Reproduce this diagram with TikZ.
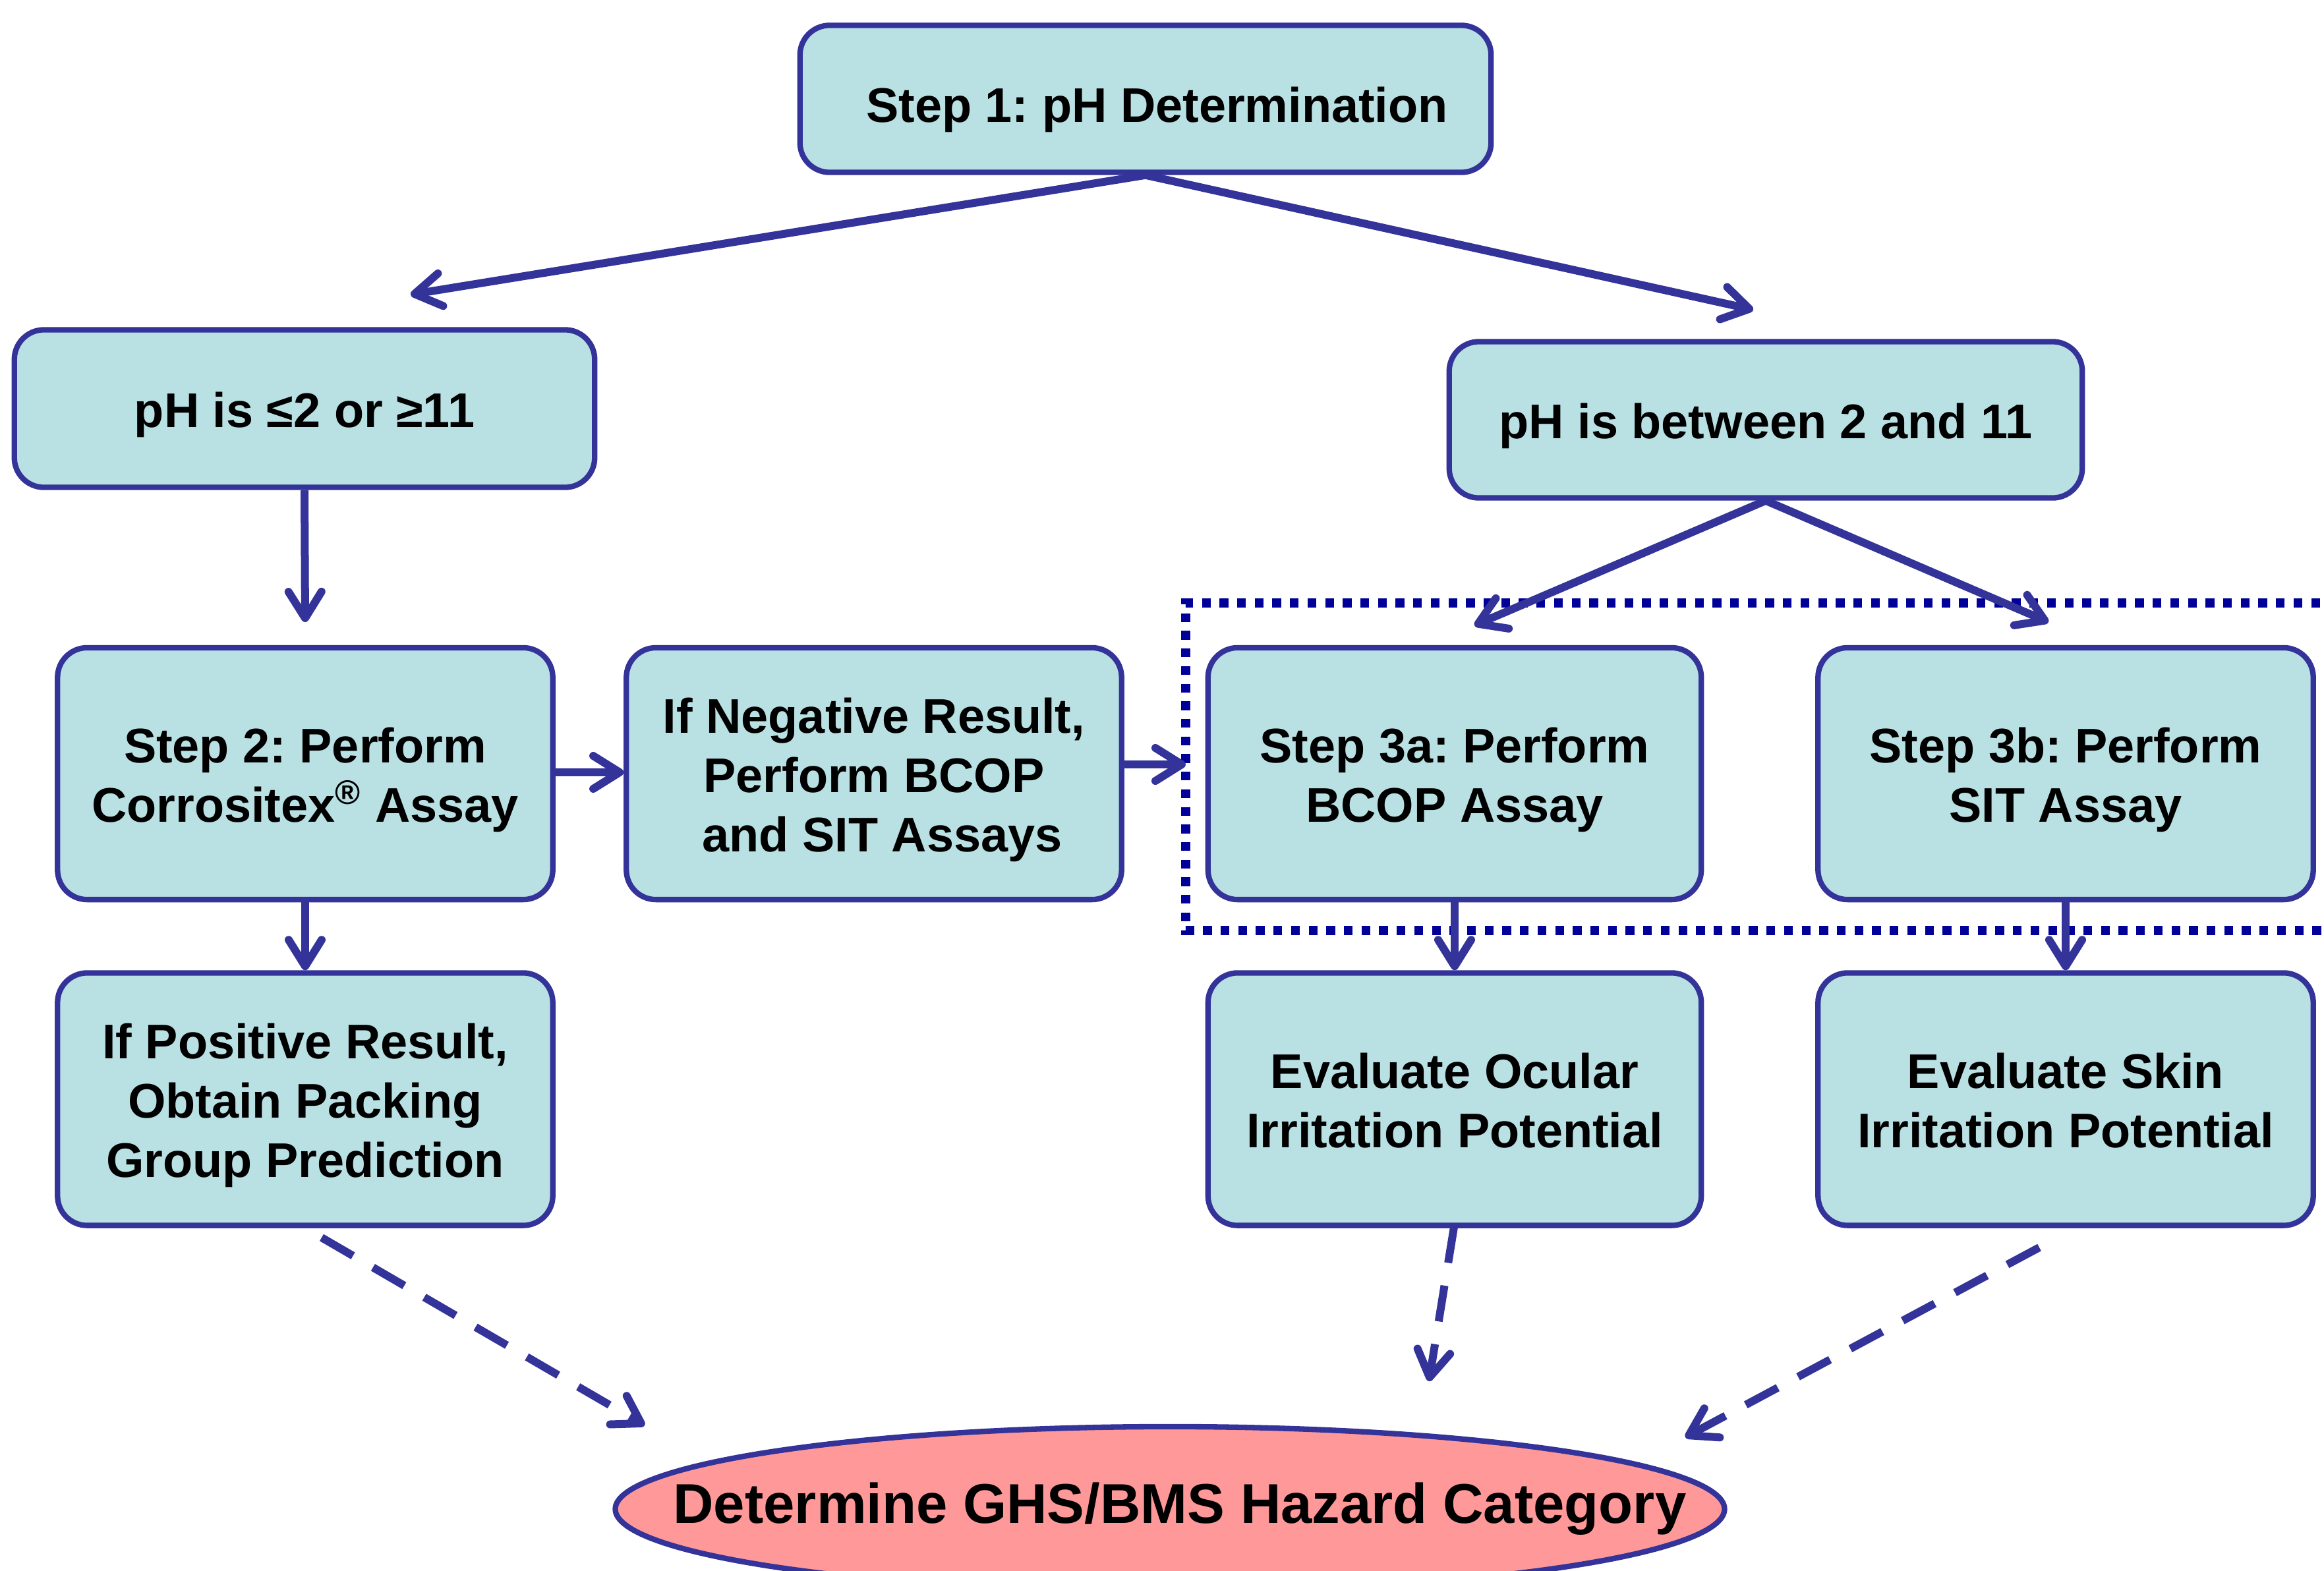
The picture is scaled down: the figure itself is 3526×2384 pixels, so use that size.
\documentclass[tikz,border=0pt]{standalone}
\usepackage{fontspec}
\setmainfont{Liberation Sans}
\usetikzlibrary{arrows.meta,shapes.geometric}
\definecolor{boxfill}{HTML}{B9E0E3}
\definecolor{edge}{HTML}{333399}
\definecolor{dotblue}{HTML}{000099}
\definecolor{ellfill}{HTML}{FF9999}
\newcommand\btext[2][0.1cm]{\raisebox{-#1}[\height][\depth]{\begin{tabular}{@{}c@{}}#2\end{tabular}}}
\frenchspacing
\begin{document}
\begin{tikzpicture}[x=0.01cm,y=-0.01cm,
  box/.style={draw=edge,line width=0.083cm,fill=boxfill,rounded corners=0.45cm,inner sep=0pt,
    font=\fontsize{21}{25.6}\selectfont\bfseries},
  arr/.style={draw=edge,line width=0.12cm,-{Straight Barb[length=0.4cm,width=0.5cm,round]}},
  dasharr/.style={arr,dash pattern=on 0.55cm off 0.35cm},
  dotbox/.style={draw=dotblue,line width=0.133cm,dash pattern=on 0.133cm off 0.134cm}]
\useasboundingbox (0,0) rectangle (3526,2384);

% dotted group frame
\draw[dotbox] (3600,915) -- (1799,915) -- (1799,1412) -- (3600,1412);
\coordinate (dotleft) at (1799,1160);

% nodes
\node[box,minimum width=10.48cm,minimum height=2.23cm] (step1) at (1738,150) {\btext[0.17cm]{\hspace{0.35cm}Step 1: pH Determination}};
\node[box,minimum width=8.80cm,minimum height=2.39cm] (phlow) at (462,620) {\btext{pH is ≤2 or ≥11}};
\node[box,minimum width=9.60cm,minimum height=2.37cm] (phmid) at (2679,637) {\btext{pH is between 2 and 11}};
\node[box,minimum width=7.51cm,minimum height=3.82cm] (step2) at (463,1174) {\btext{Step 2: Perform\\Corrositex\textsuperscript{®} Assay}};
\node[box,minimum width=7.51cm,minimum height=3.82cm] (neg) at (1326,1174) {\btext{If Negative Result,\\Perform BCOP\\\hspace{0.25cm}and SIT Assays}};
\node[box,minimum width=7.48cm,minimum height=3.82cm] (s3a) at (2207,1174) {\btext{Step 3a: Perform\\BCOP Assay}};
\node[box,minimum width=7.51cm,minimum height=3.82cm] (s3b) at (3134,1174) {\btext{Step 3b: Perform\\SIT Assay}};
\node[box,minimum width=7.51cm,minimum height=3.83cm] (pos) at (463,1668) {\btext{If Positive Result,\\Obtain Packing\\Group Prediction}};
\node[box,minimum width=7.48cm,minimum height=3.83cm] (ocular) at (2207,1668) {\btext{Evaluate Ocular\\Irritation Potential}};
\node[box,minimum width=7.51cm,minimum height=3.83cm] (skin) at (3134,1668) {\btext{Evaluate Skin\\Irritation Potential}};
\node[ellipse,draw=edge,line width=0.083cm,fill=ellfill,inner sep=0pt,minimum width=16.82cm,minimum height=2.5cm,
  font=\fontsize{24.2}{29}\selectfont\bfseries] (ghs) at (1775,2290) {\makebox[0pt]{\hspace{0.3cm}Determine GHS/BMS Hazard Category}};

% arrow end coordinates
\coordinate (t1l) at (623,447);
\coordinate (t1r) at (2660,470);
\coordinate (tlow) at (463,944);
\coordinate (tma) at (2237,949);
\coordinate (tmb) at (3108,944);
\coordinate (ps) at (488,1878);
\coordinate (pe) at (978,2163);
\coordinate (os) at (2206,1862);
\coordinate (oe) at (2168,2096);
\coordinate (ss) at (3094,1893);
\coordinate (se) at (2557,2181);

% connectors
\draw[arr] (step1.south) -- (t1l);
\draw[arr] (step1.south) -- (t1r);
\draw[arr] (phlow.south) -- (tlow);
\draw[arr] (phmid.south) -- (tma);
\draw[arr] (phmid.south) -- (tmb);
\draw[arr] ([yshift=0.02cm]step2.east) -- ([yshift=0.02cm]neg.west);
\draw[arr] (neg.east |- dotleft) -- (dotleft);
\draw[arr] (step2.south) -- (pos.north);
\draw[arr] (s3a.south) -- (ocular.north);
\draw[arr] (s3b.south) -- (skin.north);
\draw[dasharr] (ps) -- (pe);
\draw[dasharr] (os) -- (oe);
\draw[dasharr] (ss) -- (se);
\end{tikzpicture}
\end{document}
